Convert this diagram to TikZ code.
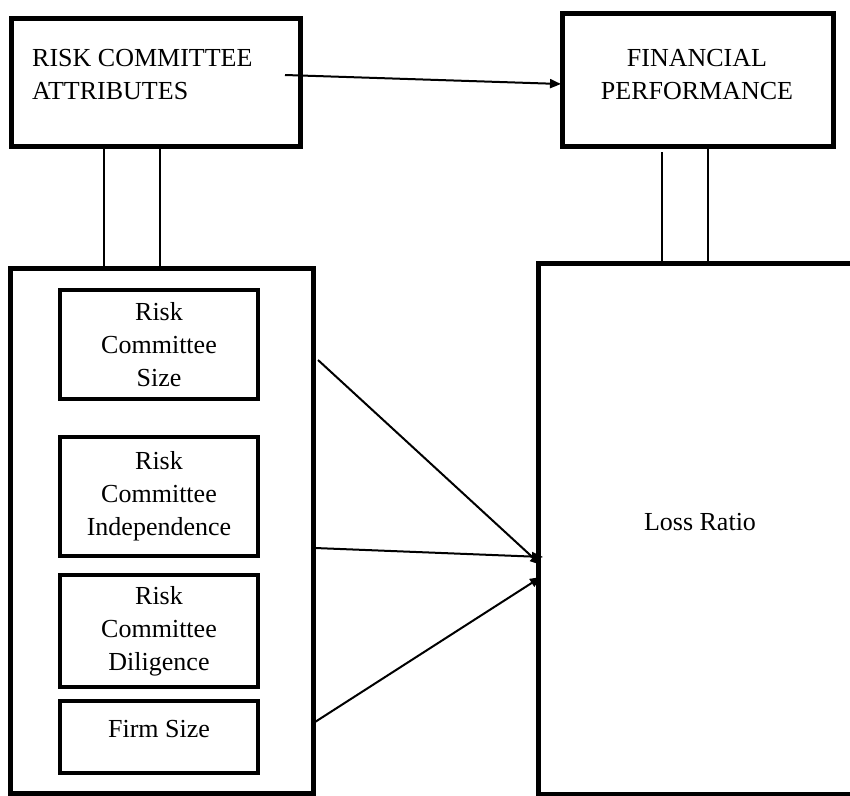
\documentclass[tikz,border=0pt]{standalone}
\usepackage{fontspec}
\setmainfont{Liberation Serif}
\usetikzlibrary{arrows.meta}

\tikzset{
  bigbox/.style={draw, line width=5pt, outer sep=0pt, inner sep=0pt},
  smallbox/.style={draw, line width=4pt, outer sep=0pt, minimum width=198, align=center},
  txt/.style={inner sep=0pt, align=center},
  link/.style={line width=2pt},
  arr/.style={line width=2pt, -{Triangle[length=11pt,width=9pt]}}
}

\begin{document}
\begin{tikzpicture}[x=1pt, y=-1pt, font=\fontsize{26}{33}\selectfont]
  \useasboundingbox (0,0) rectangle (850,795);
  \clip (0,0) rectangle (850,795);

    \node[bigbox, minimum width=289, minimum height=128] (rca) at (155.5, 82) {};
    \node[txt, anchor=west, align=left] (rcatxt) at (32, 75) {RISK COMMITTEE\\ATTRIBUTES};

    \node[bigbox, minimum width=271, minimum height=133] (fp) at (697.5, 79.5) {};
    \node[txt] (fptxt) at (697, 75) {FINANCIAL\\PERFORMANCE};

    \node[bigbox, minimum width=303, minimum height=525] (lft) at (161.5, 530.5) {};
    \node[bigbox, minimum width=342, minimum height=531] (rgt) at (709, 528.5) {};
    \node[txt] (loss) at (700, 522) {Loss Ratio};

    \node[smallbox, minimum height=109] (size) at (159, 344.5) {Risk\\Committee\\Size};
    \node[smallbox, minimum height=119] (indep) at (159, 496.5) {Risk\\Committee\\Independence};
    \node[smallbox, minimum height=112] (dilig) at (159, 631) {Risk\\Committee\\Diligence};
    \node[smallbox, minimum height=72] (firm) at (159, 737) {};
    \node[txt] (firmtxt) at (159, 729) {Firm Size};

    \coordinate (l1) at (104, 0);
    \coordinate (l2) at (160, 0);
    \coordinate (r1) at (662, 152);
    \coordinate (r2) at (708, 0);

    \draw[link] (rca.south -| l1) -- (lft.north -| l1);
    \draw[link] (rca.south -| l2) -- (lft.north -| l2);
    \draw[link] (r1) -- (rgt.north -| r1);
    \draw[link] (fp.south -| r2) -- (rgt.north -| r2);

    \coordinate (rcaout) at (285, 75);
    \coordinate (fpin) at (561, 84);
    \draw[arr] (rcaout) -- (fpin);

    \coordinate (a1) at (318, 360);
    \coordinate (a2) at (315, 548);
    \coordinate (a3) at (315, 722);
    \coordinate (b1) at (541, 565);
    \coordinate (b2) at (543, 557);
    \coordinate (b3) at (541, 577);

    \path [arr] (a1) edge (b1);
    \path [arr] (a2) edge (b2);
    \path [arr] (a3) edge (b3);

  \end{tikzpicture}
\end{document}
